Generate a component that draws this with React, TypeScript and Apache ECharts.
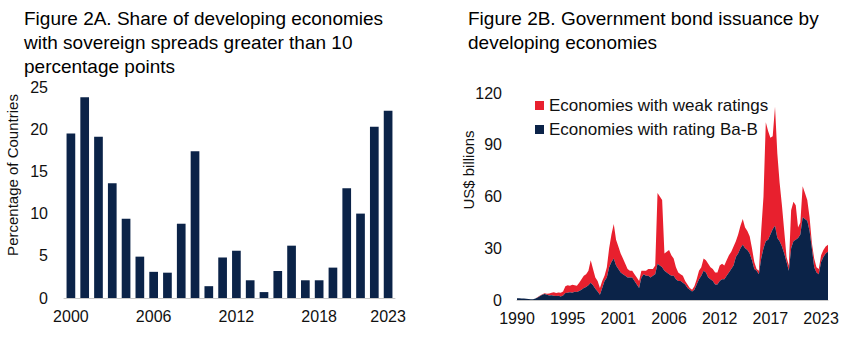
import React, { useEffect, useRef } from 'react';
import * as echarts from 'echarts';

// ---------- Figure 2A data ----------
const spreadYears = [
  '2000', '2001', '2002', '2003', '2004', '2005', '2006', '2007', '2008', '2009', '2010', '2011',
  '2012', '2013', '2014', '2015', '2016', '2017', '2018', '2019', '2020', '2021', '2022', '2023',
];
const spreadShares = [
  19.5, 23.8, 19.1, 13.6, 9.4, 4.9, 3.1, 3.0, 8.8, 17.4, 1.4, 4.8,
  5.6, 2.1, 0.7, 3.2, 6.2, 2.1, 2.1, 3.6, 13.0, 10.0, 20.3, 22.2,
];
const spreadTicks = [0, 5, 10, 15, 20, 25];

// ---------- Figure 2B data (quarterly, 1990Q1 - 2023Q4, US$ billions) ----------
const issuanceStartYear = 1990;
// Economies with rating Ba-B (bottom layer)
const babIssuance = [
  1.0, 1.0, 0.9, 0.8, // 1990
  0.7, 0.6, 0.5, 0.5, // 1991
  0.8, 1.5, 2.3, 3.0, // 1992
  3.5, 3.0, 2.6, 2.8, // 1993
  2.5, 2.3, 2.4, 2.1, // 1994
  2.6, 4.0, 4.2, 4.5, // 1995
  4.2, 4.8, 4.6, 5.2, // 1996
  6.0, 7.0, 7.5, 8.5, // 1997
  10, 8.5, 6.5, 5, // 1998
  3, 7, 11, 13, // 1999
  19, 22, 24, 20, // 2000
  18, 16, 15, 14, // 2001
  13, 13, 13, 11, // 2002
  9, 7, 13, 15, // 2003
  14, 14, 13, 14, // 2004
  15, 21, 20, 19, // 2005
  17, 16, 15, 14, // 2006
  14, 12, 11, 11, // 2007
  10, 9, 7, 6, // 2008
  5, 6, 9, 12, // 2009
  14, 17, 16, 13, // 2010
  12, 11, 9, 9, // 2011
  11, 12, 12, 14, // 2012
  16, 18, 20, 25, // 2013
  27, 30, 32, 30, // 2014
  29, 27, 23, 18, // 2015
  17, 15, 24, 30, // 2016
  34, 35, 38, 41, // 2017
  43, 36, 34, 31, // 2018
  27, 22, 17, 30, // 2019
  34, 35, 36, 38, // 2020
  48, 47, 46, 40, // 2021
  30, 19, 16, 15, // 2022
  22, 25, 27, 28, // 2023
];
// Economies with weak ratings (stacked on top)
const weakIssuance = [
  0, 0, 0, 0, // 1990
  0, 0, 0, 0, // 1991
  0.1, 0.2, 0.3, 0.4, // 1992
  0.4, 0.6, 1.2, 1.4, // 1993
  2.0, 1.7, 2.0, 2.1, // 1994
  2.4, 4.0, 4.4, 3.7, // 1995
  4.6, 3.7, 3.7, 4.8, // 1996
  6, 7, 7.5, 8.5, // 1997
  13, 9.5, 6.5, 6, // 1998
  4, 4, 3, 6, // 1999
  11, 16, 20, 15, // 2000
  13, 11, 9, 7, // 2001
  5, 4, 4, 4, // 2002
  4, 4, 4, 2, // 2003
  3, 4, 5, 4, // 2004
  5, 41, 40, 39, // 2005
  10, 12, 14, 12, // 2006
  10, 7, 5, 4, // 2007
  4, 2, 2, 1, // 2008
  1, 2, 3, 5, // 2009
  5, 7, 7, 8, // 2010
  7, 7, 7, 7, // 2011
  9, 9, 8, 9, // 2012
  10, 10, 11, 9, // 2013
  11, 13, 15, 12, // 2014
  11, 10, 7, 4, // 2015
  1, 2, 16, 30, // 2016
  69, 63, 56, 54, // 2017
  69, 49, 34, 24, // 2018
  13, 3, 3, 22, // 2019
  23, 20, 6, 7, // 2020
  18, 15, 12, 8, // 2021
  3, 5, 3, 3, // 2022
  4, 4, 4, 4, // 2023
];
const bondTickLabels = ['1990', '1995', '2001', '2006', '2012', '2017', '2023'];
const bondTickStepQuarters = 22; // one label every 5.5 years
const bondTicks = [0, 30, 60, 90, 120];

const NAVY = '#0b2348';
const RED = '#e8202e';
const FONT = "'Liberation Sans', Arial, Helvetica, sans-serif";
const TEXT = '#111111';

export default function App() {
  const ref = useRef<HTMLDivElement>(null);

  useEffect(() => {
    if (!ref.current) return;
    const chart = echarts.init(ref.current, null, { renderer: 'svg' });

    const quarters = babIssuance.map(
      (_, i) => `${issuanceStartYear + Math.floor(i / 4)}Q${(i % 4) + 1}`
    );

    chart.setOption({
      animation: false,
      backgroundColor: '#ffffff',
      textStyle: { fontFamily: FONT, color: TEXT },
      grid: [
        { left: 64, top: 87, width: 331, height: 211 },
        { left: 517, top: 93, width: 311, height: 207 },
      ],
      legend: {
        orient: 'vertical',
        left: 530,
        top: 92,
        itemWidth: 9,
        itemHeight: 9,
        itemGap: 7,
        icon: 'rect',
        data: ['Economies with weak ratings', 'Economies with rating Ba-B'],
        textStyle: { fontFamily: FONT, fontSize: 17, color: TEXT },
      },
      xAxis: [
        {
          type: 'category',
          gridIndex: 0,
          data: spreadYears,
          axisLine: { show: true, lineStyle: { color: '#c8c8c8', width: 1 } },
          axisTick: { show: false },
          axisLabel: {
            interval: (index: number) => index % 6 === 0 || index === spreadYears.length - 1,
            fontSize: 16,
            color: TEXT,
            fontFamily: FONT,
            margin: 10,
          },
          splitLine: { show: false },
        },
        {
          type: 'category',
          gridIndex: 1,
          data: quarters,
          boundaryGap: false,
          axisLine: { show: true, lineStyle: { color: '#c8c8c8', width: 1 } },
          axisTick: { show: false },
          axisLabel: {
            interval: (index: number) => index % bondTickStepQuarters === 0,
            fontSize: 16,
            color: TEXT,
            fontFamily: FONT,
            margin: 10,
            formatter: (_v: string, index: number) =>
              bondTickLabels[Math.round(index / bondTickStepQuarters)] ?? '',
          },
          splitLine: { show: false },
        },
      ],
      yAxis: [
        {
          type: 'value',
          gridIndex: 0,
          min: spreadTicks[0],
          max: spreadTicks[spreadTicks.length - 1],
          interval: 5,
          axisLine: { show: false },
          axisTick: { show: false },
          splitLine: { show: false },
          axisLabel: { fontSize: 16, color: TEXT, fontFamily: FONT, margin: 16 },
        },
        {
          type: 'value',
          gridIndex: 1,
          min: bondTicks[0],
          max: bondTicks[bondTicks.length - 1],
          interval: 30,
          axisLine: { show: false },
          axisTick: { show: false },
          splitLine: { show: false },
          axisLabel: { fontSize: 16, color: TEXT, fontFamily: FONT, margin: 15 },
        },
      ],
      series: [
        {
          name: 'Share of countries',
          type: 'bar',
          xAxisIndex: 0,
          yAxisIndex: 0,
          data: spreadShares,
          barWidth: '63%',
          itemStyle: { color: NAVY },
        },
        {
          name: 'Economies with rating Ba-B',
          type: 'line',
          xAxisIndex: 1,
          yAxisIndex: 1,
          stack: 'issuance',
          data: babIssuance,
          symbol: 'none',
          showSymbol: false,
          lineStyle: { width: 0, color: NAVY },
          itemStyle: { color: NAVY },
          areaStyle: { color: NAVY, opacity: 1 },
          z: 3,
        },
        {
          name: 'Economies with weak ratings',
          type: 'line',
          xAxisIndex: 1,
          yAxisIndex: 1,
          stack: 'issuance',
          data: weakIssuance,
          symbol: 'none',
          showSymbol: false,
          lineStyle: { width: 0, color: RED },
          itemStyle: { color: RED },
          areaStyle: { color: RED, opacity: 1 },
          z: 2,
        },
      ],
      graphic: [
        {
          type: 'text',
          left: 24,
          top: 6,
          style: {
            text: 'Figure 2A. Share of developing economies\nwith sovereign spreads greater than 10\npercentage points',
            font: `19px ${FONT}`,
            lineHeight: 24,
            fill: '#000',
          },
        },
        {
          type: 'text',
          left: 468,
          top: 6,
          style: {
            text: 'Figure 2B. Government bond issuance by\ndeveloping economies',
            font: `19px ${FONT}`,
            lineHeight: 24,
            fill: '#000',
          },
        },
        {
          type: 'text',
          x: 12,
          y: 175,
          rotation: Math.PI / 2,
          style: {
            text: 'Percentage of Countries',
            font: `15px ${FONT}`,
            fill: TEXT,
            align: 'center',
            verticalAlign: 'middle',
          },
        },
        {
          type: 'text',
          x: 468,
          y: 170,
          rotation: Math.PI / 2,
          style: {
            text: 'US$ billions',
            font: `15px ${FONT}`,
            fill: TEXT,
            align: 'center',
            verticalAlign: 'middle',
          },
        },
      ],
    });

    return () => chart.dispose();
  }, []);

  return (
    <div
      ref={ref}
      style={{ position: 'fixed', left: 0, top: 0, width: 865, height: 348, background: '#fff' }}
    />
  );
}
